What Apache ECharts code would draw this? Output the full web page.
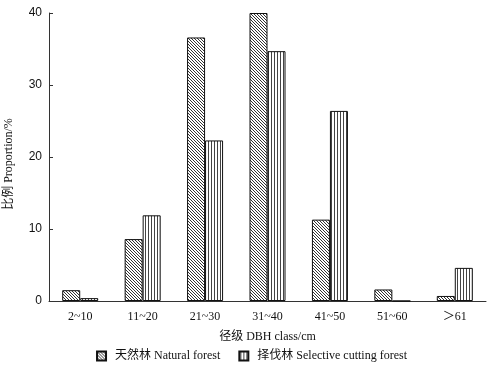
<!DOCTYPE html>
<html>
<head>
<meta charset="utf-8">
<script src="https://cdn.jsdelivr.net/npm/echarts@6/dist/echarts.min.js"></script>
<style>
html,body{margin:0;padding:0;background:#fff;}
#chart{width:503px;height:369px;}
</style>
</head>
<body>
<div id="chart"></div>
<script>
// 径级分类
var categories = ['2~10', '11~20', '21~30', '31~40', '41~50', '51~60', '＞61'];
// 天然林
var naturalData = [1.5, 8.6, 36.6, 40.0, 11.3, 1.6, 0.7];
// 择伐林
var cuttingData = [0.4, 11.9, 22.3, 34.7, 26.4, 0, 4.6];
var yTicks = [0, 10, 20, 30, 40];

var serif = '"Liberation Serif", "Times New Roman", "Noto Sans CJK SC", serif';
var sans = '"Liberation Sans", Arial, sans-serif';

//斜线填充
function makeDiag(){
    var c = document.createElement('canvas');
    c.width = 3; c.height = 3;
    var ctx = c.getContext('2d');
    ctx.fillStyle = '#fff';
    ctx.fillRect(0, 0, 3, 3);
    ctx.fillStyle = '#333';
    for(var i=0; i<3; i++){
        ctx.fillRect(i, i, 1, 1);
    }
    return c;
}
//竖线填充
function makeVert(){
    var c = document.createElement('canvas');
    c.width = 3; c.height = 3;
    var ctx = c.getContext('2d');
    ctx.fillStyle = '#fff';
    ctx.fillRect(0, 0, 3, 3);
    ctx.fillStyle = '#444';
    ctx.fillRect(1, 0, 1, 3);
    return c;
}

var diagFill = {image: makeDiag(), repeat: 'repeat'};
var vertFill = {image: makeVert(), repeat: 'repeat'};

var chart = echarts.init(document.getElementById('chart'));
var option = {
    animation: false,
    backgroundColor: '#fff',
    grid: {left: 49, right: 17, top: 13, bottom: 68, outerBoundsMode: 'none', containLabel: false},
    legend: {
        bottom: 2,
        left: 'center',
        itemWidth: 9,
        itemHeight: 9,
        itemGap: 18,
        icon: 'rect',
        textStyle: {fontFamily: serif, fontSize: 12, color: '#111', padding: [0, 0, 0, 4]},
        data: ['天然林 Natural forest', '择伐林 Selective cutting forest']
    },
    xAxis: {
        type: 'category',
        data: categories,
        name: '径级 DBH class/cm',
        nameLocation: 'middle',
        nameGap: 30,
        nameTextStyle: {fontFamily: serif, fontSize: 12, color: '#111'},
        axisLine: {lineStyle: {color: '#333', width: 1}},
        axisTick: {inside: true, length: 4, alignWithLabel: false, lineStyle: {color: '#333'}},
        axisLabel: {fontFamily: serif, fontSize: 12, color: '#111', margin: 10}
    },
    yAxis: {
        type: 'value',
        min: yTicks[0],
        max: yTicks[yTicks.length - 1],
        interval: 10,
        name: '比例 Proportion/%',
        nameLocation: 'middle',
        nameGap: 34,
        nameTextStyle: {fontFamily: serif, fontSize: 12, color: '#111', padding: [0, 14, 0, 0]},
        splitLine: {show: false},
        axisLine: {show: true, lineStyle: {color: '#333', width: 1}},
        axisTick: {show: true, inside: true, length: 4, lineStyle: {color: '#333'}},
        axisLabel: {fontFamily: sans, fontSize: 12, color: '#111', margin: 7}
    },
    series: [{
        name: '天然林 Natural forest',
        type: 'bar',
        barWidth: 18,
        barGap: '0%',
        data: naturalData,
        itemStyle: {color: diagFill, borderColor: '#111', borderWidth: 1}
    }, {
        name: '择伐林 Selective cutting forest',
        type: 'bar',
        barWidth: 18,
        barGap: '0%',
        data: cuttingData,
        itemStyle: {color: vertFill, borderColor: '#111', borderWidth: 1}
    }]
};
chart.setOption(option);
</script>
</body>
</html>
